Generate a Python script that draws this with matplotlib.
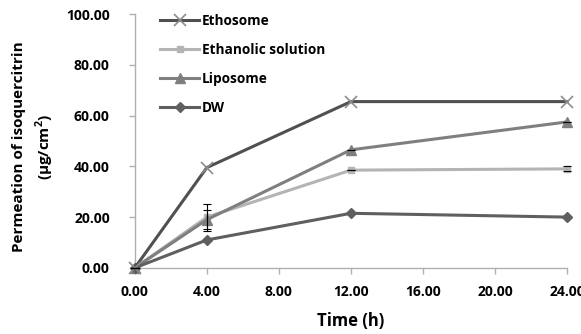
import numpy as np
import matplotlib.pyplot as plt

# permeation data (ug/cm2) vs time (h)
time_h = [0, 4, 12, 24]
ethosome = [0.0, 39.5, 65.5, 65.5]
ethanolic = [0.0, 20.0, 38.5, 39.0]
liposome = [0.0, 19.0, 46.5, 57.5]
dw = [0.0, 11.0, 21.5, 20.0]

ethanolic_err = [0.0, 5.3, 0.0, 1.0]
liposome_err = [0.0, 3.7, 0.0, 0.0]

x_ticks = [0, 4, 8, 12, 16, 20, 24]
y_ticks = [0, 20, 40, 60, 80, 100]

plt.rcParams['font.family'] = ['Open Sans', 'DejaVu Sans']
plt.rcParams['font.weight'] = 'bold'
plt.rcParams['mathtext.fontset'] = 'custom'
plt.rcParams['mathtext.bf'] = 'Open Sans:bold'

fig = plt.figure(figsize=(5.81, 3.34), dpi=100)
ax = fig.add_axes([0.232, 0.198, 0.744, 0.760])

lw = 2.2
ax.plot(time_h, ethosome, color='#505050', lw=lw, marker='x', ms=9,
        mew=1.2, mec='#8c8c8c', label='Ethosome', zorder=4)
ax.plot(time_h, ethanolic, color='#b4b4b4', lw=lw, marker='s', ms=4,
        label='Ethanolic solution', zorder=3)
ax.plot(time_h, liposome, color='#7f7f7f', lw=lw, marker='^', ms=7,
        label='Liposome', zorder=3)
ax.plot(time_h, dw, color='#5f5f5f', lw=lw, marker='D', ms=5,
        label='DW', zorder=3)

# error bars
ax.errorbar(time_h, ethanolic, yerr=ethanolic_err, fmt='none', ecolor='black',
            elinewidth=0.8, capsize=3, capthick=0.8, zorder=5)
ax.errorbar(time_h, liposome, yerr=liposome_err, fmt='none', ecolor='black',
            elinewidth=0.8, capsize=3, capthick=0.8, zorder=5)

ax.set_xlim(0, 24)
ax.set_ylim(0, 100)
ax.set_xticks(x_ticks)
ax.set_yticks(y_ticks)
ax.set_xticklabels(['{:.2f}'.format(v) for v in x_ticks])
ax.set_yticklabels(['{:.2f}'.format(v) for v in y_ticks])
ax.tick_params(labelsize=10, color='#b0b0b0', length=4, width=1)
for lab in ax.get_xticklabels() + ax.get_yticklabels():
    lab.set_fontweight('bold')
ax.tick_params(axis='x', pad=8)
ax.tick_params(axis='y', pad=14)

for side in ['top', 'right']:
    ax.spines[side].set_visible(False)
for side in ['left', 'bottom']:
    ax.spines[side].set_color('#b0b0b0')
    ax.spines[side].set_linewidth(1)
for ln in ax.lines:
    ln.set_clip_on(False)

ax.set_xlabel('Time (h)', fontsize=12, fontweight='bold', labelpad=10)
fig.text(0.058, 0.56, 'Permeation of isoquercitrin\n(\u03bcg/cm$^\\mathbf{2}$)',
         rotation=90, ha='center', va='center', fontsize=11,
         fontweight='bold', linespacing=1.45, multialignment='center')

ax.legend(loc='upper left', bbox_to_anchor=(0.03, 1.05), frameon=False,
          handlelength=2.9, handletextpad=0.2,
          labelspacing=1.1, prop={'weight': 'bold', 'size': 9.8})

fig.savefig('out.png', dpi=100)
